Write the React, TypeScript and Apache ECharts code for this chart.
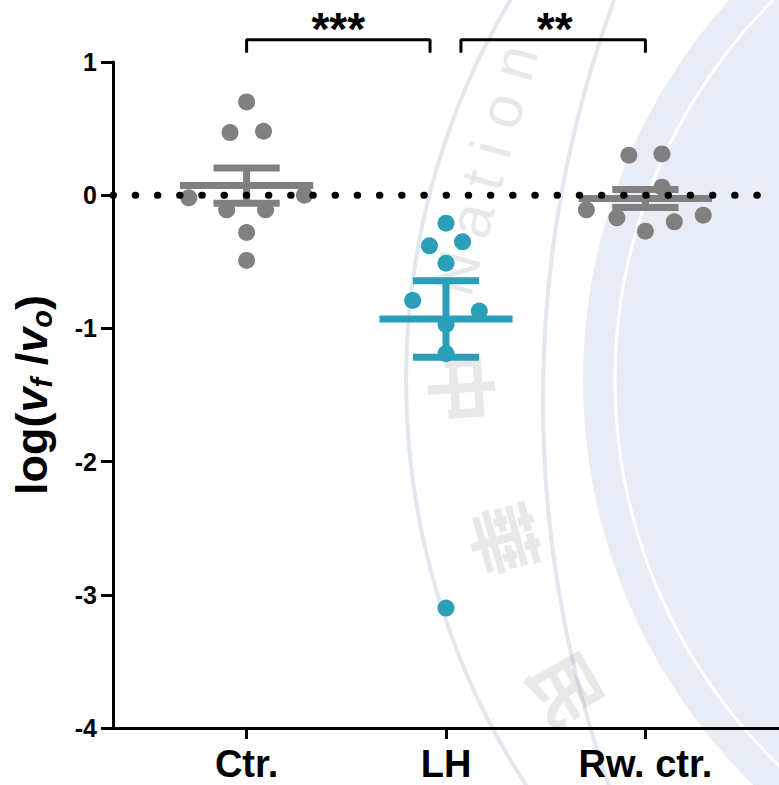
import React, { useEffect, useRef } from "react";
import * as echarts from "echarts";

// ---- data ----
const categories = ["Ctr.", "LH", "Rw. ctr."];
const ctrValues = [0.7, 0.47, 0.48, -0.02, 0.0, -0.11, -0.11, -0.28, -0.49];
const ctrJitter = [0, -0.083, 0.085, -0.29, 0.29, -0.1, 0.095, 0, 0];
const lhValues = [-0.21, -0.38, -0.35, -0.51, -0.79, -0.87, -0.97, -1.19, -3.1];
const lhJitter = [0, -0.083, 0.083, 0, -0.167, 0.167, 0, 0, 0];
const rwValues = [0.3, 0.31, 0.06, -0.11, -0.17, -0.2, -0.15, -0.27];
const rwJitter = [-0.083, 0.083, 0.083, -0.296, -0.143, 0.145, 0.29, 0];
const means = [0.072, -0.93, -0.025];
const sems = [0.132, 0.287, 0.068];
const sigLabels = ["***", "**"];

const GRAY = "#808080";
const TEAL = "#2a9fb7";
const groupColors = [GRAY, TEAL, GRAY];
const FONT = "'Liberation Sans', Arial, Helvetica, sans-serif";

export default function App() {
  const ref = useRef<HTMLDivElement>(null);
  useEffect(() => {
    if (!ref.current) return;
    const chart = echarts.init(ref.current, null, { renderer: "svg" });

    const pts = (vals: number[], jit: number[], cat: number) =>
      vals.map((v, i) => [cat + jit[i], v]);

    const brackets = [
      [[1, 1.07], [1, 1.167], [1.92, 1.167], [1.92, 1.07]],
      [[2.075, 1.07], [2.075, 1.167], [3, 1.167], [3, 1.07]],
    ];
    const starPos = [[1.46, 1.25], [2.545, 1.25]];

    const wmText = "rgba(140,140,140,0.2)";
    const option: any = {
      animation: false,
      backgroundColor: "#ffffff",
      textStyle: { fontFamily: FONT },
      grid: { left: 113, right: 0, top: 62, bottom: 57 },
      graphic: [
        { type: "circle", z: -10, silent: true, shape: { cx: 1150, cy: 380, r: 567 }, style: { fill: "#e8ecf5" } },
        { type: "circle", z: -9, silent: true, shape: { cx: 1150, cy: 380, r: 535 }, style: { fill: "none", stroke: "#ffffff", lineWidth: 3 } },
        { type: "circle", z: -9, silent: true, shape: { cx: 1150, cy: 380, r: 744 }, style: { fill: "none", stroke: "#e2e6ee", lineWidth: 4 } },
        { type: "circle", z: -9, silent: true, shape: { cx: 1703, cy: 400, r: 1160 }, style: { fill: "none", stroke: "#e2e6ee", lineWidth: 4 } },
        { type: "text", z: -8, silent: true, x: 485, y: 170, rotation: 1.3, style: { text: "N a t i o n", fill: wmText, font: "60px " + FONT, align: "center", verticalAlign: "middle" } },
        { type: "text", z: -8, silent: true, x: 465, y: 388, rotation: -1.5, style: { text: "中", fill: wmText, font: "bold 72px 'Noto Sans CJK TC'", align: "center", verticalAlign: "middle" } },
        { type: "text", z: -8, silent: true, x: 508, y: 538, rotation: -1.3, style: { text: "華", fill: wmText, font: "bold 72px 'Noto Sans CJK TC'", align: "center", verticalAlign: "middle" } },
        { type: "text", z: -8, silent: true, x: 570, y: 688, rotation: -1.05, style: { text: "民", fill: wmText, font: "bold 72px 'Noto Sans CJK TC'", align: "center", verticalAlign: "middle" } },
      ],
      xAxis: {
        type: "value",
        min: 0.33,
        max: 3.67,
        splitLine: { show: false },
        axisLine: { show: true, onZero: false, lineStyle: { color: "#000", width: 3 } },
        axisTick: { show: true, customValues: [1, 2, 3], length: 11, lineStyle: { color: "#000", width: 3 } },
        axisLabel: {
          customValues: [1, 2, 3],
          formatter: (v: number) => categories[Math.round(v) - 1] ?? "",
          fontSize: 38,
          fontWeight: "bold",
          color: "#000",
          margin: 17,
          lineHeight: 38,
          fontFamily: FONT,
        },
      },
      yAxis: {
        type: "value",
        min: -4,
        max: 1,
        interval: 1,
        splitLine: { show: false },
        axisLine: { show: true, onZero: false, lineStyle: { color: "#000", width: 3 } },
        axisTick: { show: true, length: 12, lineStyle: { color: "#000", width: 3 } },
        axisLabel: { fontSize: 25, fontWeight: "bold", color: "#000", margin: 16, fontFamily: FONT },
        name: "{n|log(}{v|v}{s|f}{n| /}{v|v}{s|o}{n|)}",
        nameLocation: "middle",
        nameRotate: 90,
        nameGap: 57,
        nameTextStyle: {
          fontFamily: FONT,
          rich: {
            n: { fontSize: 45, fontWeight: "bold", color: "#000", lineHeight: 50, verticalAlign: "middle", fontFamily: FONT },
            v: { fontSize: 45, fontWeight: "bold", fontStyle: "italic", color: "#000", lineHeight: 50, verticalAlign: "middle", fontFamily: FONT },
            s: { fontSize: 29, fontWeight: "bold", fontStyle: "italic", color: "#000", lineHeight: 29, verticalAlign: "bottom", fontFamily: FONT },
          },
        },
      },
      series: [
        {
          type: "scatter", z: 3, symbolSize: 17, itemStyle: { color: GRAY, opacity: 1 },
          data: pts(ctrValues, ctrJitter, 1),
        },
        {
          type: "scatter", z: 3, symbolSize: 17, itemStyle: { color: TEAL, opacity: 1 },
          data: pts(lhValues, lhJitter, 2),
        },
        {
          type: "scatter", z: 3, symbolSize: 17, itemStyle: { color: GRAY, opacity: 1 },
          data: pts(rwValues, rwJitter, 3),
        },
        {
          type: "custom", z: 4,
          data: means.map((m, i) => [i + 1, m, sems[i], i]),
          encode: { x: 0, y: 1 },
          renderItem: (_p: any, api: any) => {
            const x = api.value(0), m = api.value(1), s = api.value(2), idx = api.value(3);
            const c = groupColors[idx];
            const st = { stroke: c, lineWidth: 7 };
            const a = api.coord([x - 0.334, m]), b = api.coord([x + 0.334, m]);
            const t = api.coord([x, m + s]), d = api.coord([x, m - s]);
            const tl = api.coord([x - 0.166, m + s]), tr = api.coord([x + 0.166, m + s]);
            const bl = api.coord([x - 0.166, m - s]), br = api.coord([x + 0.166, m - s]);
            return {
              type: "group",
              children: [
                { type: "line", shape: { x1: t[0], y1: t[1], x2: d[0], y2: d[1] }, style: st },
                { type: "line", shape: { x1: a[0], y1: a[1], x2: b[0], y2: b[1] }, style: st },
                { type: "line", shape: { x1: tl[0], y1: tl[1], x2: tr[0], y2: tr[1] }, style: st },
                { type: "line", shape: { x1: bl[0], y1: bl[1], x2: br[0], y2: br[1] }, style: st },
              ],
            };
          },
        },
        {
          type: "line", z: 6, symbol: "none", silent: true,
          data: [[0.33, 0], [3.67, 0]],
          lineStyle: { color: "#000", width: 7, type: [0.5, 21.7], cap: "round" },
        },
        ...brackets.map((br) => ({
          type: "line", z: 6, symbol: "none", clip: false, silent: true,
          data: br,
          lineStyle: { color: "#000", width: 3, cap: "butt" },
        })),
        {
          type: "custom", z: 6, clip: false, silent: true,
          data: starPos.map((p, i) => [p[0], p[1], i]),
          encode: { x: 0, y: 1 },
          renderItem: (_p: any, api: any) => {
            const c = api.coord([api.value(0), api.value(1)]);
            return {
              type: "text",
              x: c[0],
              y: c[1],
              style: {
                text: sigLabels[api.value(2)],
                fill: "#000",
                font: "bold 46px " + FONT,
                align: "center",
                verticalAlign: "middle",
              },
            };
          },
        },
      ],
    };
    chart.setOption(option);
    return () => chart.dispose();
  }, []);
  return (
    <div
      ref={ref}
      style={{ position: "fixed", left: 0, top: 0, width: 779, height: 785, background: "#fff" }}
    />
  );
}
